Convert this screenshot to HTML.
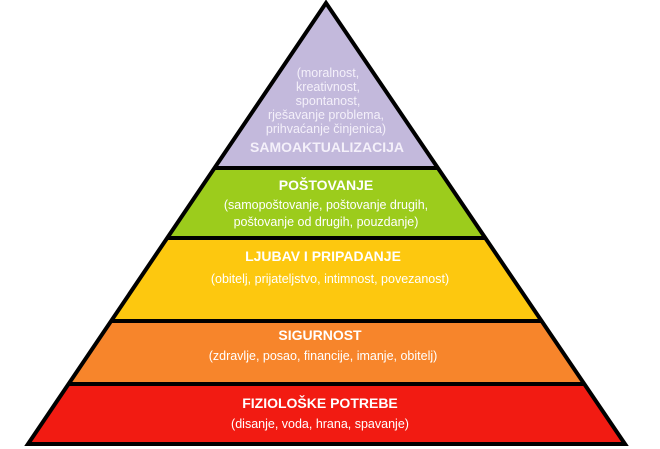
<!DOCTYPE html>
<html><head><style>html,body{margin:0;padding:0;background:#fff}svg{display:block}</style></head>
<body>
<svg width="660" height="449" viewBox="0 0 660 449" xmlns="http://www.w3.org/2000/svg" font-family="'Liberation Sans',sans-serif">
<defs>
<clipPath id="tri"><polygon points="326,3 625,444 28,444"/></clipPath>
</defs>
<g clip-path="url(#tri)">
<rect x="0" y="0" width="660" height="168" fill="#c3b9dc"/>
<rect x="0" y="168" width="660" height="70" fill="#9ccc1c"/>
<rect x="0" y="238" width="660" height="83" fill="#fdc80f"/>
<rect x="0" y="321" width="660" height="63" fill="#f7852b"/>
<rect x="0" y="384" width="660" height="60" fill="#f21b12"/>
<g stroke="#000" stroke-width="4">
<line x1="0" y1="168" x2="660" y2="168"/>
<line x1="0" y1="238" x2="660" y2="238"/>
<line x1="0" y1="321" x2="660" y2="321"/>
<line x1="0" y1="384" x2="660" y2="384"/>
</g>
</g>
<polygon points="326,3 625,444 28,444" fill="none" stroke="#000" stroke-width="4" stroke-linejoin="miter"/>
<g fill="#f4f0fa" text-anchor="middle" font-size="12.5">
<text x="328" y="77">(moralnost,</text>
<text x="328" y="91">kreativnost,</text>
<text x="328" y="105">spontanost,</text>
<text x="326" y="119">rješavanje problema,</text>
<text x="326" y="133">prihvaćanje činjenica)</text>
<text x="327" y="152" font-weight="bold" font-size="14">SAMOAKTUALIZACIJA</text>
</g>
<g fill="#fff" text-anchor="middle">
<text x="326" y="190" font-weight="bold" font-size="14">POŠTOVANJE</text>
<text x="326" y="209" font-size="12.5">(samopoštovanje, poštovanje drugih,</text>
<text x="326" y="226" font-size="12.5">poštovanje od drugih, pouzdanje)</text>
<text x="323" y="261" font-weight="bold" font-size="14">LJUBAV I PRIPADANJE</text>
<text x="330" y="283" font-size="12.5">(obitelj, prijateljstvo, intimnost, povezanost)</text>
<text x="320" y="340" font-weight="bold" font-size="14">SIGURNOST</text>
<text x="323" y="360" font-size="12.5">(zdravlje, posao, financije, imanje, obitelj)</text>
<text x="320" y="408" font-weight="bold" font-size="14">FIZIOLOŠKE POTREBE</text>
<text x="320" y="428" font-size="12.5">(disanje, voda, hrana, spavanje)</text>
</g>
</svg>
</body></html>
